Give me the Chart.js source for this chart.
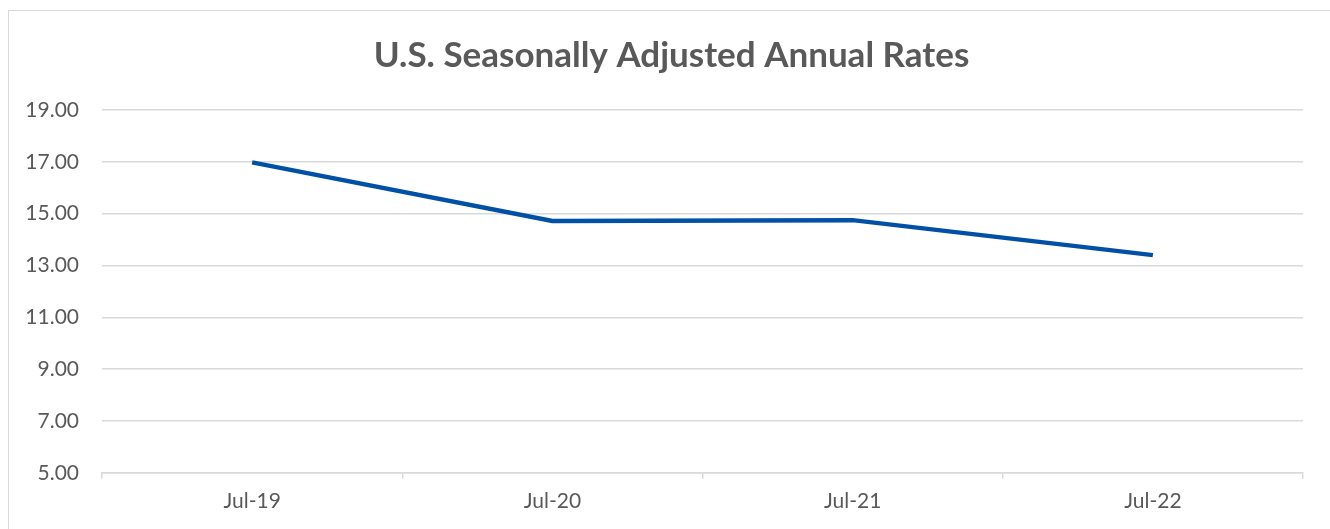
<!DOCTYPE html>
<html>
<head>
<meta charset="utf-8">
<script src="https://cdn.jsdelivr.net/npm/chart.js@4"></script>
<style>
  html, body { margin: 0; padding: 0; background: #fff; }
  #wrap { position: relative; width: 1330px; height: 529px; overflow: hidden; }
  #frame { position: absolute; left: 8px; top: 10px; width: 1400px; height: 600px; border: 1px solid #d9d9d9; }
  #myChart { position: absolute; left: 0; top: 0; }
</style>
</head>
<body>
<div id="wrap">
  <div id="frame"></div>
  <canvas id="myChart" width="1330" height="529"></canvas>
</div>
<script>
var categories = ['Jul-19', 'Jul-20', 'Jul-21', 'Jul-22'];
var rates = [16.98, 14.72, 14.75, 13.40];
var yMin = 5, yMax = 19, yStep = 2;

var ctx = document.getElementById('myChart').getContext('2d');
var gridColor = '#d9d9d9';
var textColor = '#595959';

// title in the original sits a bit right of the canvas centre
var titleShift = {
    id: 'titleShift',
    afterLayout: function (chart) {
        if (chart.titleBlock) chart.titleBlock.left = 40;
    }
};

new Chart(ctx, {
    type: 'line',
    data: {
        labels: categories,
        datasets: [{
            data: rates,
            borderColor: '#0050a6',
            borderWidth: 4.5,
            pointRadius: 0,
            tension: 0,
            fill: false
        }]
    },
    options: {
        responsive: false,
        animation: false,
        layout: {
            padding: { left: 0, right: 27, top: 0, bottom: 5 }
        },
        plugins: {
            legend: { display: false },
            tooltip: { enabled: false },
            title: {
                display: true,
                text: 'U.S. Seasonally Adjusted Annual Rates',
                color: textColor,
                font: { family: 'Lato', size: 35, weight: 'bold' },
                padding: { top: 35, bottom: 33 }
            }
        },
        scales: {
            x: {
                offset: true,
                grid: {
                    offset: true,
                    drawOnChartArea: false,
                    drawTicks: true,
                    tickLength: 6,
                    color: gridColor,
                    lineWidth: 1.5
                },
                border: { display: true, color: gridColor, width: 1.5 },
                ticks: {
                    color: textColor,
                    padding: 10,
                    maxRotation: 0,
                    font: { family: 'Lato', size: 21 }
                }
            },
            y: {
                min: yMin,
                max: yMax,
                afterFit: function (scale) { scale.width = 102; },
                ticks: {
                    stepSize: yStep,
                    color: textColor,
                    padding: 23,
                    font: { family: 'Lato', size: 21 },
                    callback: function (v) { return v.toFixed(2); }
                },
                grid: {
                    drawTicks: false,
                    color: gridColor,
                    lineWidth: 1.5
                },
                border: { display: false }
            }
        }
    },
    plugins: [titleShift]
});
</script>
</body>
</html>
